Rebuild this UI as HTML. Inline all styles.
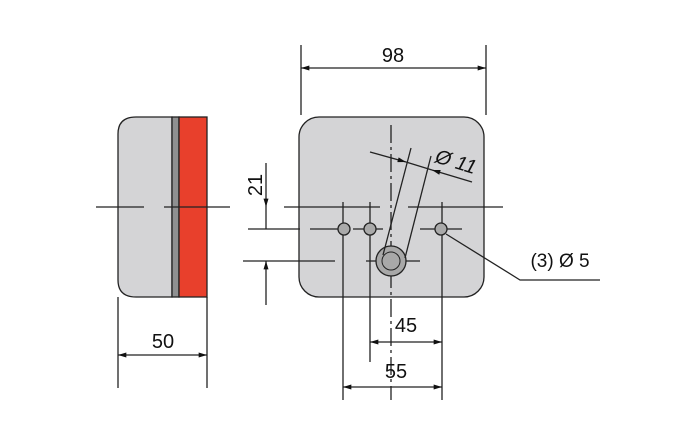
<!DOCTYPE html>
<html><head><style>body{margin:0;background:#fff}svg{display:block}text{font-family:"Liberation Sans",sans-serif;fill:#111}</style></head><body>
<svg width="697" height="439" viewBox="0 0 697 439" xmlns="http://www.w3.org/2000/svg">
<defs><marker id="a" viewBox="0 0 10 6" refX="10" refY="3" markerWidth="12" markerHeight="5" orient="auto-start-reverse" markerUnits="userSpaceOnUse"><path d="M0,0L10,3L0,6z" fill="#111"/></marker></defs>
<g stroke="#222" stroke-width="1.3" fill="none">
<path d="M136,117H172V297H136Q118,297 118,280V134Q118,117 136,117Z" fill="#d4d4d6"/>
<rect x="172" y="117" width="7" height="180" fill="#8f9091"/>
<rect x="179" y="117" width="28" height="180" fill="#e8402c"/>
<line x1="96" y1="207" x2="144" y2="207"/><line x1="164" y1="207" x2="230" y2="207"/>
<line x1="118" y1="297" x2="118" y2="388"/><line x1="207" y1="297" x2="207" y2="388"/>
<line x1="118" y1="355" x2="207" y2="355" marker-start="url(#a)" marker-end="url(#a)"/>
<rect x="299" y="117" width="185" height="180" rx="20" fill="#d4d4d6"/>
<line x1="301" y1="45" x2="301" y2="115"/><line x1="486" y1="45" x2="486" y2="115"/>
<line x1="301" y1="68" x2="486" y2="68" marker-start="url(#a)" marker-end="url(#a)"/>
<line x1="391" y1="125" x2="391" y2="400" stroke-dasharray="18,4,3,4"/>
<line x1="284" y1="207" x2="380" y2="207"/><line x1="408" y1="207" x2="503" y2="207"/>
<line x1="248" y1="229" x2="300" y2="229"/><line x1="310" y1="229" x2="384" y2="229" stroke-dasharray="30,5,3,5"/>
<line x1="420" y1="229" x2="462" y2="229"/>
<line x1="243" y1="261" x2="335" y2="261"/><line x1="366" y1="261" x2="420" y2="261"/>
<line x1="266" y1="163" x2="266" y2="207" marker-end="url(#a)"/><line x1="266" y1="207" x2="266" y2="229"/>
<line x1="266" y1="305" x2="266" y2="261" marker-end="url(#a)"/>
<line x1="343" y1="202" x2="343" y2="400"/><line x1="370" y1="202" x2="370" y2="362"/>
<line x1="442" y1="202" x2="442" y2="400"/>
<line x1="370" y1="342" x2="442" y2="342" marker-start="url(#a)" marker-end="url(#a)"/>
<line x1="343" y1="387" x2="442" y2="387" marker-start="url(#a)" marker-end="url(#a)"/>
<circle cx="344" cy="229" r="6" fill="#aaa"/><circle cx="370" cy="229" r="6" fill="#aaa"/><circle cx="441" cy="229" r="6" fill="#aaa"/>
<circle cx="391" cy="261" r="15" fill="#a8a8a8"/><circle cx="391" cy="261" r="9" stroke-width="1"/>
<line x1="383" y1="255" x2="411" y2="148"/><line x1="405" y1="258" x2="431" y2="156"/>
<line x1="370" y1="152" x2="406" y2="162" marker-end="url(#a)"/><line x1="406" y1="162" x2="432" y2="170"/>
<line x1="472" y1="182" x2="432" y2="170" marker-end="url(#a)"/>
<polyline points="446,234 520,280 600,280"/>
</g>
<text x="163" y="348" font-size="20" text-anchor="middle">50</text>
<text x="393" y="62" font-size="20" text-anchor="middle">98</text>
<text x="406" y="332" font-size="20" text-anchor="middle">45</text>
<text x="396" y="378" font-size="20" text-anchor="middle">55</text>
<text x="560" y="267" font-size="19" text-anchor="middle">(3) Ø 5</text>
<text transform="translate(262,185) rotate(-90)" font-size="20" text-anchor="middle">21</text>
<text transform="translate(434,162) rotate(17)" font-size="20" font-style="italic">Ø 11</text>
</svg>
</body></html>
